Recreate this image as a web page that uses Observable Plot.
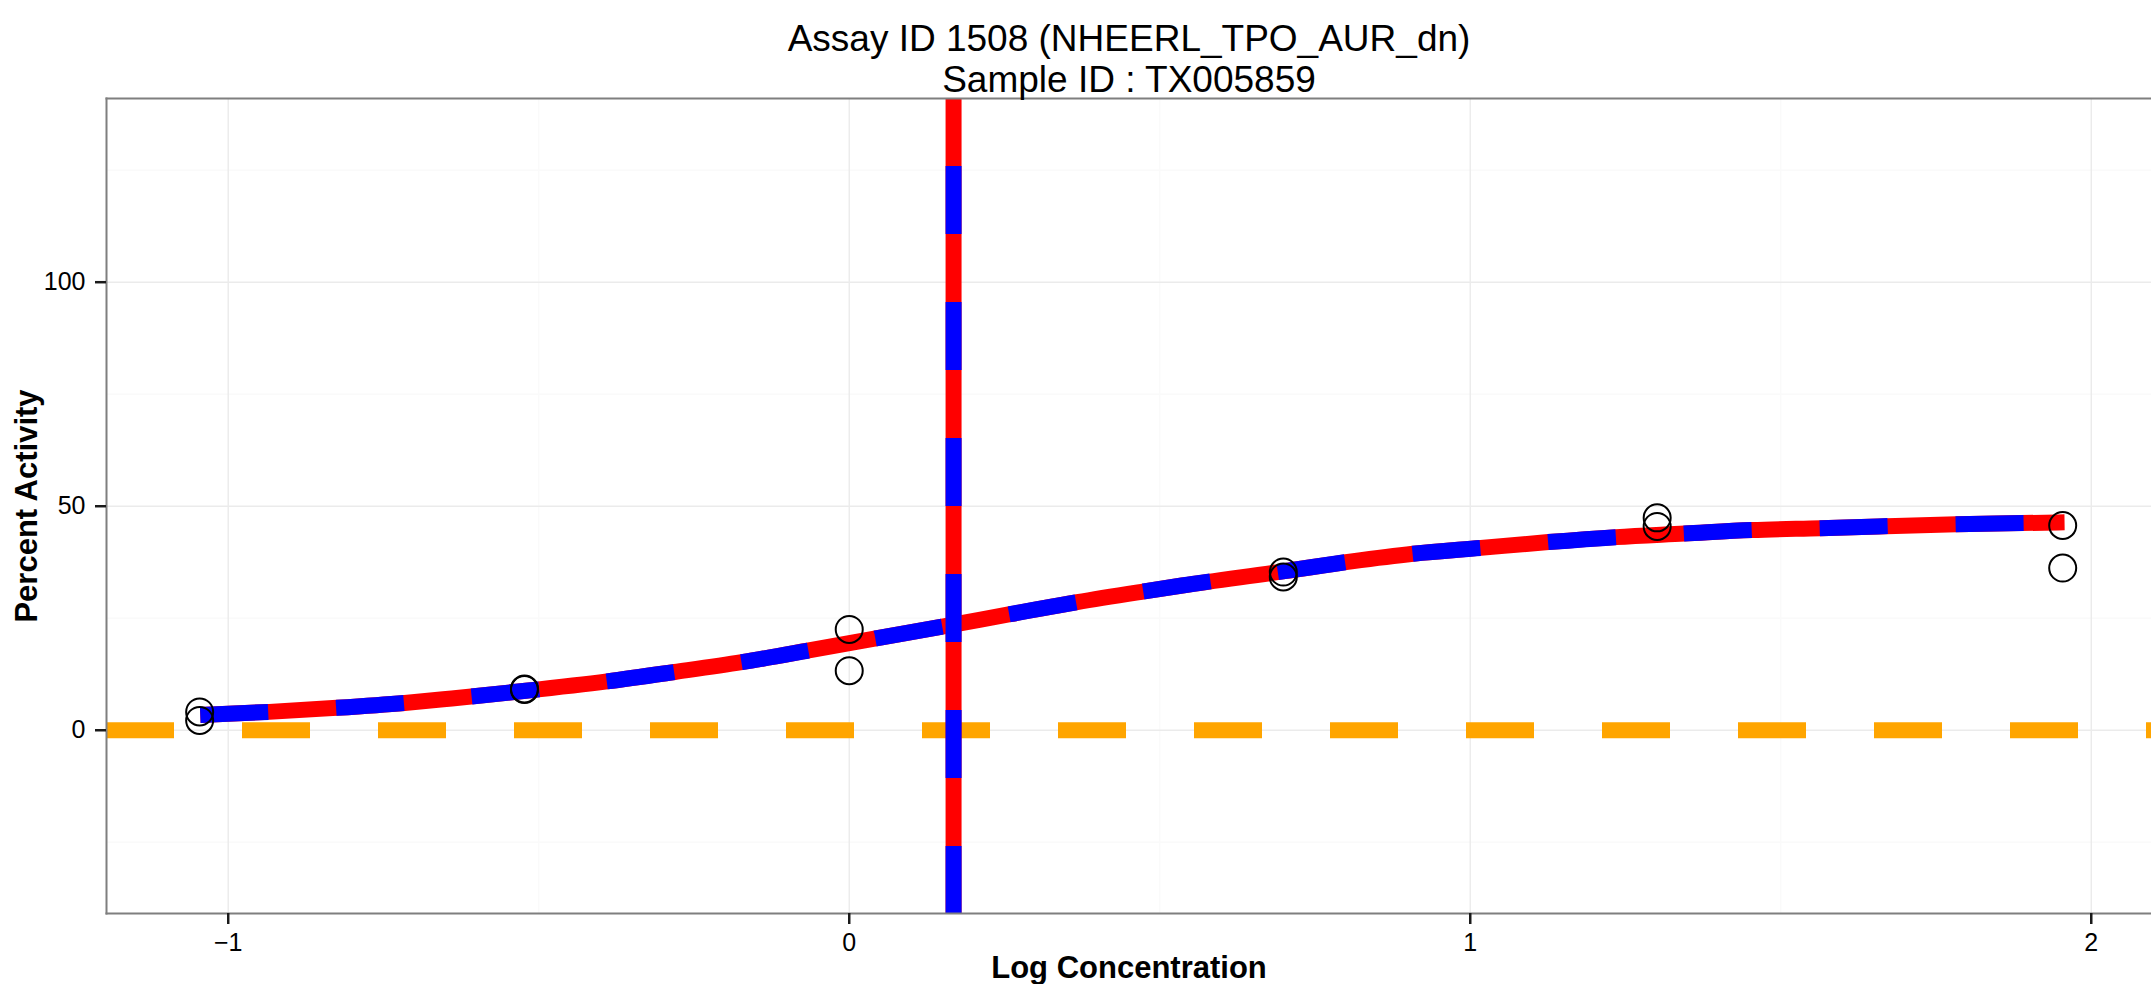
<!DOCTYPE html>
<html>
<head>
<meta charset="utf-8">
<script src="https://cdn.jsdelivr.net/npm/d3@7"></script>
<script src="https://cdn.jsdelivr.net/npm/@observablehq/plot@0.6"></script>
<style>
  html, body { margin: 0; padding: 0; background: #ffffff; }
  #chart { width: 2151px; height: 984px; overflow: hidden; }
</style>
</head>
<body>
<div id="chart"></div>
<script>
// ---- Text ----
const titleLines = ["Assay ID 1508 (NHEERL_TPO_AUR_dn)", "Sample ID : TX005859"];
const xAxisTitle = ["Log Concentration"];
const yAxisTitle = ["Percent Activity"];

// ---- Observed responses (log10 concentration, percent activity) ----
const logConc     = [-1.046, -1.046, -0.523, -0.523, 0.000, 0.000, 0.699, 0.699, 1.301, 1.301, 1.954, 1.954];
const pctActivity = [   4.1,    2.2,    9.2,    9.1,  22.5,  13.3,  35.3,  34.2,  47.4,  45.5,  45.7,  36.2];

// ---- Fitted curve ----
const curveLogConc = [-1.045, -0.934, -0.825, -0.716, -0.640, -0.521, -0.390, -0.281, -0.173, -0.065,
                       0.043,  0.152,  0.259,  0.367,  0.475,  0.536,  0.701,  0.809,  0.908,  1.017,
                       1.126,  1.235,  1.345,  1.454,  1.564,  1.783,  1.957];
const curvePct     = [   3.4,    4.1,    5.0,    6.1,    7.1,    8.8,   10.9,   13.0,   15.2,   17.8,
                        20.5,   23.2,   25.9,   28.6,   31.0,   32.3,   35.5,   37.7,   39.4,   40.7,
                        42.0,   43.1,   43.9,   44.7,   45.1,   46.0,   46.4];

// ---- Reference lines ----
const ac50LogConc = [0.168];   // vertical line
const cutoffPct   = [0];       // horizontal dashed line

// ---- Ticks ----
const xTicks      = [-1, 0, 1, 2];
const xMinorTicks = [-0.5, 0.5, 1.5];
const yTicks      = [0, 50, 100];
const yMinorTicks = [-25, 25, 75, 125];

const xDomain = [-1.196, 2.097];
const yDomain = [-40.9, 141.0];

// ---- Tables ----
const points = logConc.map((x, i) => ({x, y: pctActivity[i]}));
const curve  = curveLogConc.map((x, i) => ({x, y: curvePct[i]}));

const FONT = "'Liberation Sans', Arial, Helvetica, sans-serif";
const DASH = "68,68";
const LW = 16;
const intFmt = d3.format("d");

const chart = Plot.plot({
  width: 2151,
  height: 984,
  marginLeft: 106,
  marginRight: 0,
  marginTop: 98,
  marginBottom: 71,
  style: {fontFamily: FONT, fontSize: "25px", color: "black", background: "white", overflow: "visible"},
  x: {domain: xDomain, axis: null},
  y: {domain: yDomain, axis: null},
  marks: [
    // grid
    Plot.gridX({ticks: xMinorTicks, stroke: "#fafafa", strokeOpacity: 1, strokeWidth: 1.4}),
    Plot.gridY({ticks: yMinorTicks, stroke: "#fafafa", strokeOpacity: 1, strokeWidth: 1.4}),
    Plot.gridX({ticks: xTicks, stroke: "#ebebeb", strokeOpacity: 1, strokeWidth: 1.4}),
    Plot.gridY({ticks: yTicks, stroke: "#ebebeb", strokeOpacity: 1, strokeWidth: 1.4}),

    // horizontal cutoff line
    Plot.ruleY(cutoffPct, {stroke: "#ffa500", strokeWidth: LW, strokeDasharray: DASH}),

    // fitted curve: red underneath, blue dashes on top
    Plot.line(curve, {x: "x", y: "y", curve: "monotone-x", stroke: "red", strokeWidth: LW, strokeLinecap: "butt"}),
    Plot.line(curve, {x: "x", y: "y", curve: "monotone-x", stroke: "blue", strokeWidth: LW, strokeLinecap: "butt", strokeDasharray: DASH}),

    // AC50 vertical line
    Plot.ruleX(ac50LogConc, {stroke: "red", strokeWidth: LW}),
    Plot.ruleX(ac50LogConc, {stroke: "blue", strokeWidth: LW, strokeDasharray: DASH, strokeDashoffset: 68}),

    // observed points
    Plot.dot(points, {x: "x", y: "y", r: 13.5, stroke: "black", strokeWidth: 2, fill: "none"}),

    // panel border
    Plot.frame({anchor: "top", stroke: "#7f7f7f", strokeWidth: 2}),
    Plot.frame({anchor: "left", stroke: "#7f7f7f", strokeWidth: 2}),
    Plot.frame({anchor: "bottom", stroke: "#7f7f7f", strokeWidth: 2}),

    // axes
    Plot.axisX({ticks: xTicks, tickFormat: intFmt, tickSize: 11, tickPadding: 9, stroke: "#1a1a1a", strokeWidth: 2.5, fill: "black", label: null}),
    Plot.axisY({ticks: yTicks, tickFormat: intFmt, tickSize: 11, tickPadding: 10, stroke: "#1a1a1a", strokeWidth: 2.5, fill: "black", label: null}),

    // axis titles
    Plot.text(xAxisTitle, {frameAnchor: "bottom", lineAnchor: "middle", textAnchor: "middle", dy: 55, fontSize: 31, fontWeight: "bold", fill: "black"}),
    Plot.text(yAxisTitle, {frameAnchor: "left", lineAnchor: "middle", textAnchor: "middle", rotate: -90, dx: -79, fontSize: 31, fontWeight: "bold", fill: "black"}),

    // title
    Plot.text([titleLines[0]], {frameAnchor: "top", lineAnchor: "middle", textAnchor: "middle", dy: -59.5, fontSize: 37, fill: "black"}),
    Plot.text([titleLines[1]], {frameAnchor: "top", lineAnchor: "middle", textAnchor: "middle", dy: -18.8, fontSize: 37, fill: "black"})
  ]
});
document.getElementById("chart").appendChild(chart);
</script>
</body>
</html>
